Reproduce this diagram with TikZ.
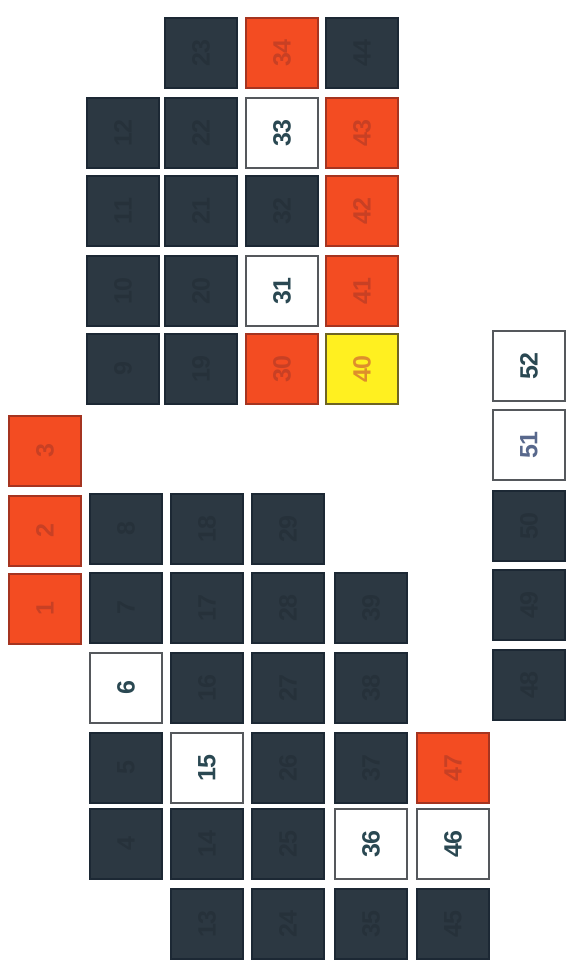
\documentclass[tikz,border=0pt]{standalone}
\usepackage{fontspec}
\setmainfont{Liberation Sans}
\definecolor{darkfill}{RGB}{44,56,66}
\definecolor{darkedge}{RGB}{28,40,52}
\definecolor{darktext}{RGB}{38,49,58}
\definecolor{redfill}{RGB}{243,76,34}
\definecolor{rededge}{RGB}{165,52,32}
\definecolor{redtext}{RGB}{200,64,36}
\definecolor{whiteedge}{RGB}{85,88,92}
\definecolor{whitetext}{RGB}{42,72,82}
\definecolor{bluetext}{RGB}{88,104,140}
\definecolor{yellowfill}{RGB}{255,240,32}
\definecolor{yellowedge}{RGB}{110,100,34}
\definecolor{yellowtext}{RGB}{222,142,44}
\tikzset{
  seat/.style={minimum width=70pt, minimum height=72pt, inner sep=0pt, line width=1.2pt,
    font=\fontsize{25}{25}\selectfont\bfseries, rotate=90},
  darkseat/.style={seat, draw=darkedge, fill=darkfill, text=darktext},
  redseat/.style={seat, draw=rededge, fill=redfill, text=redtext},
  whiteseat/.style={seat, draw=whiteedge, fill=white, text=whitetext},
  yellowseat/.style={seat, draw=yellowedge, fill=yellowfill, text=yellowtext}
}
\begin{document}
\begin{tikzpicture}[x=1pt, y=-1pt]
\useasboundingbox[fill=white] (0,0) rectangle (572,979);
% dark seats
\foreach \n/\x/\y in {
  12/123/133, 11/123/211, 10/123/291, 9/123/369,
  8/126/529, 7/126/608, 5/126/768, 4/126/844,
  23/201/53, 22/201/133, 21/201/211, 20/201/291, 19/201/369,
  18/207/529, 17/207/608, 16/207/688, 14/207/844, 13/207/924,
  32/282/211,
  29/288/529, 28/288/608, 27/288/688, 26/288/768, 25/288/844, 24/288/924,
  44/362/53,
  39/371/608, 38/371/688, 37/371/768, 35/371/924,
  45/453/924,
  50/529/526, 49/529/605, 48/529/685}
  \node[darkseat] (s\n) at (\x,\y) {\n};
% red seats
\foreach \n/\x/\y in {
  3/45/451, 2/45/531, 1/45/609,
  34/282/53, 30/282/369,
  43/362/133, 42/362/211, 41/362/291,
  47/453/768}
  \node[redseat] (s\n) at (\x,\y) {\n};
% white seats
\foreach \n/\x/\y in {
  6/126/688, 15/207/768, 33/282/133, 31/282/291,
  36/371/844, 46/453/844, 52/529/366}
  \node[whiteseat] (s\n) at (\x,\y) {\n};
\node[whiteseat, text=bluetext] (s51) at (529,445) {51};
% yellow seat
\node[yellowseat] (s40) at (362,369) {40};
\end{tikzpicture}
\end{document}
